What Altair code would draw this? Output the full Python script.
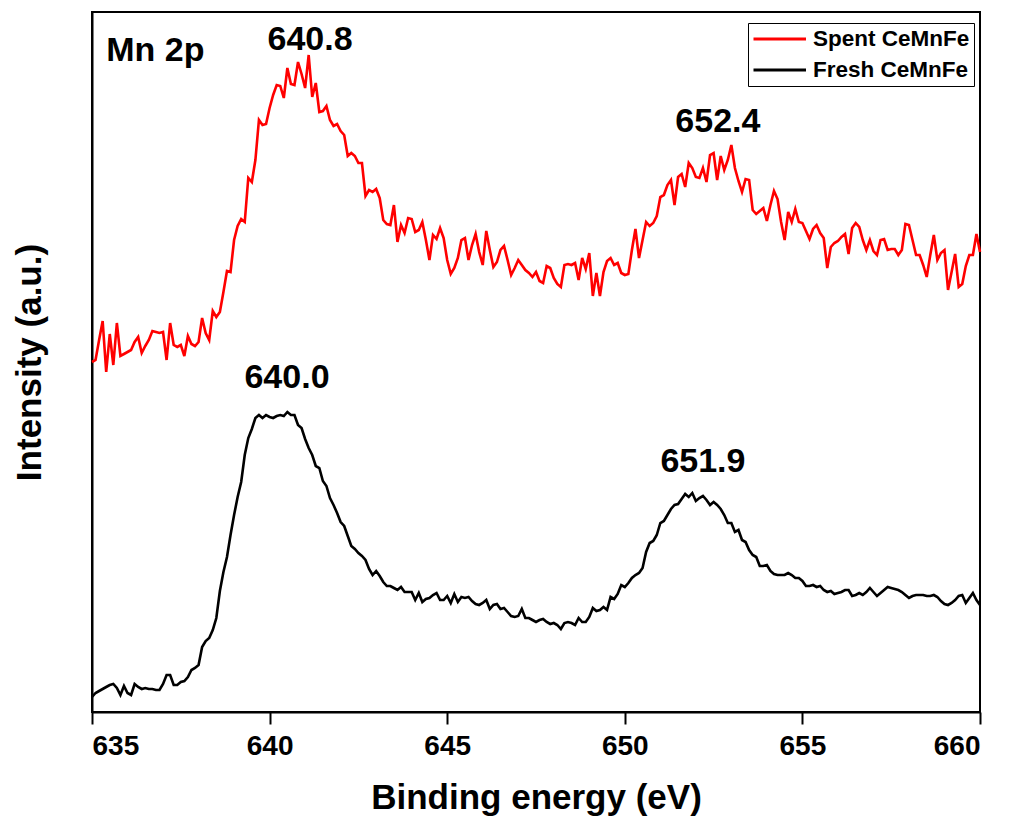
import altair as alt
import pandas as pd

# Binding energy grid (eV), 0.1 eV step as in the spectrum
energy = [round(635 + 0.1 * i, 1) for i in range(251)]

# Spent CeMnFe (offset upward) (a.u.)
spent = [350, 352, 372, 391, 340, 378, 347, 389, 356, 358,
         360, 362, 370, 375, 359, 366, 372, 381, 380, 379,
         380, 352, 389, 367, 365, 367, 356, 376, 368, 366,
         370, 394, 379, 372, 401, 395, 400, 420, 441, 440,
         472, 486, 493, 490, 534, 530, 552, 592, 587, 588,
         604, 617, 627, 626, 614, 644, 628, 627, 650, 638,
         624, 657, 615, 629, 600, 601, 606, 592, 586, 588,
         581, 577, 556, 559, 556, 549, 549, 516, 522, 520,
         523, 514, 492, 488, 487, 507, 470, 487, 479, 494,
         493, 480, 482, 490, 472, 452, 477, 473, 484, 474,
         452, 438, 444, 454, 472, 474, 452, 467, 478, 460,
         447, 481, 462, 445, 450, 462, 466, 452, 437, 444,
         452, 447, 442, 439, 435, 440, 431, 429, 446, 444,
         434, 428, 425, 447, 448, 447, 449, 432, 454, 443,
         459, 416, 439, 416, 440, 451, 454, 447, 449, 439,
         437, 438, 462, 483, 454, 472, 490, 486, 489, 496,
         515, 517, 527, 532, 507, 535, 538, 525, 549, 544,
         535, 534, 544, 530, 557, 559, 532, 556, 542, 552,
         567, 544, 531, 520, 533, 532, 502, 498, 501, 504,
         491, 507, 521, 513, 490, 472, 500, 490, 503, 490,
         489, 481, 473, 483, 487, 479, 474, 444, 465, 469,
         471, 475, 478, 458, 484, 489, 485, 472, 462, 472,
         461, 457, 472, 473, 462, 463, 463, 457, 462, 488,
         487, 472, 457, 457, 447, 435, 457, 477, 452, 459,
         462, 422, 440, 458, 425, 428, 446, 457, 457, 478, 460]

# Fresh CeMnFe (a.u.)
fresh = [15, 19, 21, 23, 25, 27, 28, 24, 17, 26,
         19, 17, 28, 25, 23, 24, 23, 23, 22, 22,
         28, 37, 37, 27, 27, 30, 31, 35, 42, 44,
         47, 65, 71, 74, 82, 94, 121, 140, 155, 177,
         197, 215, 230, 257, 274, 283, 294, 297, 294, 297,
         295, 294, 296, 297, 296, 300, 297, 297, 287, 284,
         273, 264, 257, 246, 244, 231, 226, 214, 207, 199,
         190, 186, 176, 166, 163, 159, 156, 152, 143, 137,
         141, 136, 130, 126, 126, 124, 122, 125, 120, 120,
         120, 112, 119, 110, 113, 114, 117, 119, 112, 112,
         116, 109, 118, 110, 115, 114, 115, 111, 108, 107,
         109, 112, 103, 107, 108, 103, 104, 100, 96, 95,
         96, 103, 94, 94, 92, 90, 92, 93, 90, 88,
         89, 87, 83, 89, 90, 89, 87, 94, 90, 90,
         95, 104, 101, 102, 105, 102, 115, 113, 118, 127,
         125, 129, 134, 137, 139, 144, 160, 169, 171, 177,
         189, 191, 197, 203, 207, 208, 213, 218, 215, 219,
         211, 214, 216, 212, 207, 210, 207, 203, 197, 189,
         189, 180, 182, 172, 170, 162, 157, 155, 146, 146,
         147, 141, 138, 137, 137, 137, 139, 137, 134, 134,
         131, 126, 126, 127, 125, 126, 122, 120, 121, 118,
         119, 120, 122, 122, 116, 117, 119, 117, 120, 124,
         120, 116, 119, 122, 125, 124, 123, 122, 120, 117,
         114, 116, 117, 117, 117, 116, 116, 117, 115, 111,
         108, 107, 109, 112, 116, 117, 109, 114, 119, 112, 107]

series_names = ["Spent CeMnFe", "Fresh CeMnFe"]
series_colors = ["#ff0000", "#000000"]

peak_labels = ["640.8", "652.4", "640.0", "651.9"]
peak_x = [641.14, 652.62, 640.49, 652.2]
peak_y = [672, 590, 334, 250]

panel_label = ["Mn 2p"]
panel_x = [635.4]
panel_y = [661]

x_ticks = [635, 640, 645, 650, 655, 660]

FONT = "Liberation Sans"

df = pd.concat([
    pd.DataFrame({"energy": energy, "intensity": spent, "sample": series_names[0]}),
    pd.DataFrame({"energy": energy, "intensity": fresh, "sample": series_names[1]}),
])
peaks = pd.DataFrame({"energy": peak_x, "intensity": peak_y, "label": peak_labels})
panel = pd.DataFrame({"energy": panel_x, "intensity": panel_y, "label": panel_label})

x_enc = alt.X("energy:Q",
              scale=alt.Scale(domain=[635, 660], nice=False, zero=False),
              axis=alt.Axis(values=x_ticks, title="Binding energy (eV)", format="d",
                            labelFontSize=28, labelFont=FONT, labelFontWeight="bold",
                            labelPadding=8, tickSize=12, titleFontSize=35,
                            titleFont=FONT, titleFontWeight="bold", titlePadding=20))
y_enc = alt.Y("intensity:Q",
              scale=alt.Scale(domain=[0, 700], nice=False, zero=False),
              axis=alt.Axis(labels=False, ticks=False, title="Intensity (a.u.)",
                            titleFontSize=35, titleFont=FONT, titleFontWeight="bold",
                            titlePadding=45))

lines = alt.Chart(df).mark_line(strokeWidth=2.6).encode(
    x=x_enc,
    y=y_enc,
    color=alt.Color("sample:N",
                    scale=alt.Scale(domain=series_names, range=series_colors),
                    sort=series_names,
                    legend=alt.Legend(title=None, orient="none", legendX=656, legendY=11,
                                      strokeColor="black", padding=4,
                                      symbolType="M-1,0H4", symbolStrokeWidth=3,
                                      symbolSize=441, labelFont=FONT,
                                      labelFontSize=22.5, labelFontWeight="bold",
                                      labelColor="black", rowPadding=7, labelOffset=37)),
)

peak_text = alt.Chart(peaks).mark_text(font=FONT, fontSize=34, fontWeight="bold",
                                       align="center", baseline="middle",
                                       color="black").encode(
    x="energy:Q", y="intensity:Q", text="label:N")

panel_text = alt.Chart(panel).mark_text(font=FONT, fontSize=34, fontWeight="bold",
                                        align="left", baseline="middle",
                                        color="black").encode(
    x="energy:Q", y="intensity:Q", text="label:N")

chart = alt.layer(lines, peak_text, panel_text).properties(
    width=888, height=700,
    autosize=alt.AutoSizeParams(type="none"),
    padding={"left": 92, "top": 12, "right": 30, "bottom": 115},
    background="white",
).configure_view(stroke="black", strokeWidth=2).configure_axis(
    grid=False, domainColor="black", domainWidth=2, tickColor="black",
    tickWidth=2, labelColor="black", titleColor="black")

chart.save("out.html", embed_options={"renderer": "svg", "actions": False})
